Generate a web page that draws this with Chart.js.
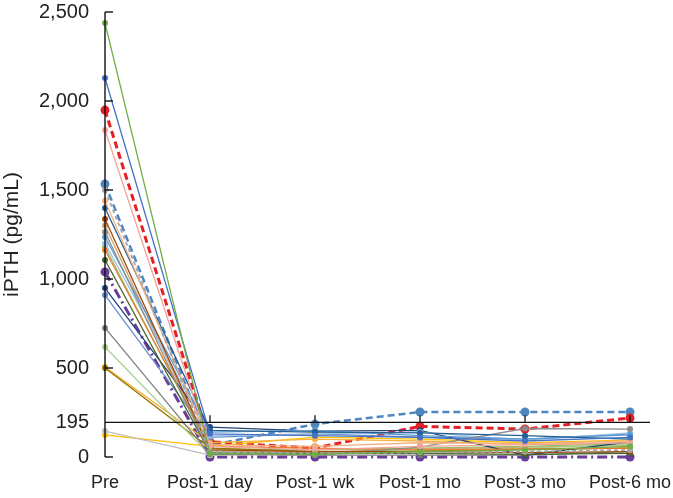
<!DOCTYPE html>
<html>
<head>
<meta charset="utf-8">
<script src="https://cdn.jsdelivr.net/npm/chart.js@4.4.1/dist/chart.umd.min.js"></script>
<style>
html,body{margin:0;padding:0;background:#fff;}
#wrap{width:673px;height:498px;position:relative;}
</style>
</head>
<body>
<div id="wrap"><canvas id="c" width="673" height="498"></canvas></div>
<script>
// Categories (time points)
const categories = ["Pre", "Post-1 day", "Post-1 wk", "Post-1 mo", "Post-3 mo", "Post-6 mo"];
// Y tick values
const yTicks = [0, 195, 500, 1000, 1500, 2000, 2500];
const referenceLine = 195;

// Patient series (iPTH, pg/mL)
const p01 = [2438, 20, 15, 30, 40, 60];
const p02 = [2129, 130, 120, 110, 90, 110];
const p03 = [1837, 60, 40, 60, 70, 80];
const p04 = [1500, 30, 20, 25, 30, 40];
const p05 = [1440, 70, 60, 80, 75, 90];
const p06 = [1399, 150, 140, 135, 120, 100];
const p07 = [1337, 40, 30, 30, 25, 30];
const p08 = [1264, 20, 10, 56, 160, 157];
const p09 = [1236, 140, 150, 120, 100, 125];
const p10 = [1200, 120, 130, 140, 95, 135];
const p11 = [1163, 60, 50, 40, 45, 50];
const p12 = [1107, 25, 20, 20, 15, 20];
const p13 = [949, 168, 145, 150, 10, 85];
const p14 = [910, 110, 130, 112, 100, 130];
const p15 = [725, 15, 10, 10, 10, 30];
const p16 = [618, 10, 20, 40, 50, 70];
const p17 = [500, 50, 30, 35, 45, 50];
const p18 = [505, 80, 100, 90, 70, 80];
const p19 = [146, 10, 20, 30, 40, 50];
const p20 = [124, 60, 112, 100, 80, 95];
const p21 = [1300, 35, 25, 45, 55, 65];
const p22 = [1180, 45, 40, 50, 60, 75];
const pRed = [1949, 85, 50, 172, 157, 219];
const pSteel = [1534, 65, 185, 253, 253, 253];
const pPurple = [1040, 0, 0, 0, 0, 0];

const seriesList = [p01,p02,p03,p04,p05,p06,p07,p08,p09,p10,p11,p12,p13,p14,p15,p16,p17,p18,p19,p20,p21,p22,pPurple,pRed,pSteel];
const seriesColors = ["#6FAD47","#4472C4","#F2A49A","#A5A5A5","#F4B183","#255E91","#9E480E","#8C8C8C","#5B9BD5","#9DC3E6","#ED7D31","#43682B","#264478","#698ED0","#7F7F7F","#A9D18E","#997300","#F5B342","#BFBFBF","#FFC000","#C9A46E","#8CC168","#6A3D9A","#E41F26","#4E86BF"];
const seriesDash = [[],[],[],[4,3],[],[],[],[],[],[],[],[],[],[],[],[],[],[],[],[],[],[],[10,4,2,4],[7,4],[7,4]];
const seriesWidth = [1.3,1.3,1.3,1.8,1.3,1.3,1.3,1.3,1.3,1.3,1.3,1.3,1.3,1.3,1.3,1.3,1.3,1.3,1.3,1.3,1.3,1.3,3,3,2.5];
const seriesRadius = [3,3,3,3,3,3,3,3,3,3,3,3,3,3,3,3,3,3,3,3,3,3,4.5,4.5,4.5];

const datasets = seriesList.map((d,i)=>({
  data: d,
  borderColor: seriesColors[i],
  backgroundColor: seriesColors[i],
  borderWidth: seriesWidth[i],
  borderDash: seriesDash[i],
  pointRadius: seriesRadius[i],
  pointBorderWidth: 0,
  pointHoverRadius: seriesRadius[i],
  tension: 0,
  clip: false
}));

const axisPlugin = {
  id: 'axisPlugin',
  afterDatasetsDraw(chart) {
    const ctx = chart.ctx;
    const y = chart.scales.y, x = chart.scales.x;
    const ax = chart.chartArea.left;
    ctx.save();
    ctx.strokeStyle = '#111';
    ctx.lineWidth = 1.4;
    ctx.beginPath();
    ctx.moveTo(ax, y.getPixelForValue(2500));
    ctx.lineTo(ax, y.getPixelForValue(0));
    ctx.stroke();
    [0,500,1000,1500,2000,2500].forEach(v=>{
      const py = y.getPixelForValue(v);
      ctx.beginPath();
      ctx.moveTo(ax, py);
      ctx.lineTo(ax+8, py);
      ctx.stroke();
    });
    const ry = y.getPixelForValue(referenceLine);
    ctx.lineWidth = 1.3;
    ctx.beginPath();
    ctx.moveTo(ax, ry);
    ctx.lineTo(chart.chartArea.right + 20, ry);
    ctx.stroke();
    for (let i = 1; i < categories.length; i++) {
      const px = x.getPixelForValue(i);
      ctx.beginPath();
      ctx.moveTo(px, ry);
      ctx.lineTo(px, ry - 7);
      ctx.stroke();
    }
    ctx.restore();
  }
};

new Chart(document.getElementById('c'), {
  type: 'line',
  data: { labels: categories, datasets },
  options: {
    responsive: false,
    animation: false,
    devicePixelRatio: 1,
    layout: { padding: { top: 0, right: 0, bottom: 0, left: 0 } },
    plugins: { legend: { display: false }, tooltip: { enabled: false } },
    scales: {
      x: {
        offset: false,
        afterFit(scale) { scale.height = 41; scale.paddingRight = 43; scale.paddingLeft = 0; },
        grid: { display: false, drawTicks: false },
        border: { display: false },
        ticks: { color: '#222', font: { family: 'Liberation Sans, Arial, sans-serif', size: 18 }, padding: 15, maxRotation: 0, autoSkip: false }
      },
      y: {
        min: 0, max: 2500,
        afterBuildTicks(scale) { scale.ticks = yTicks.map(v=>({value:v})); },
        afterFit(scale) { scale.width = 105; scale.paddingTop = 12; scale.paddingBottom = 0; },
        grid: { display: false, drawTicks: false },
        border: { display: false },
        title: { display: true, text: 'iPTH (pg/mL)', color: '#222', font: { family: 'Liberation Sans, Arial, sans-serif', size: 21 }, padding: { top: 0, bottom: 2 } },
        ticks: { color: '#222', font: { family: 'Liberation Sans, Arial, sans-serif', size: 20 }, padding: 16,
          callback: (v)=> v.toLocaleString('en-US') }
      }
    }
  },
  plugins: [axisPlugin]
});
</script>
</body>
</html>
